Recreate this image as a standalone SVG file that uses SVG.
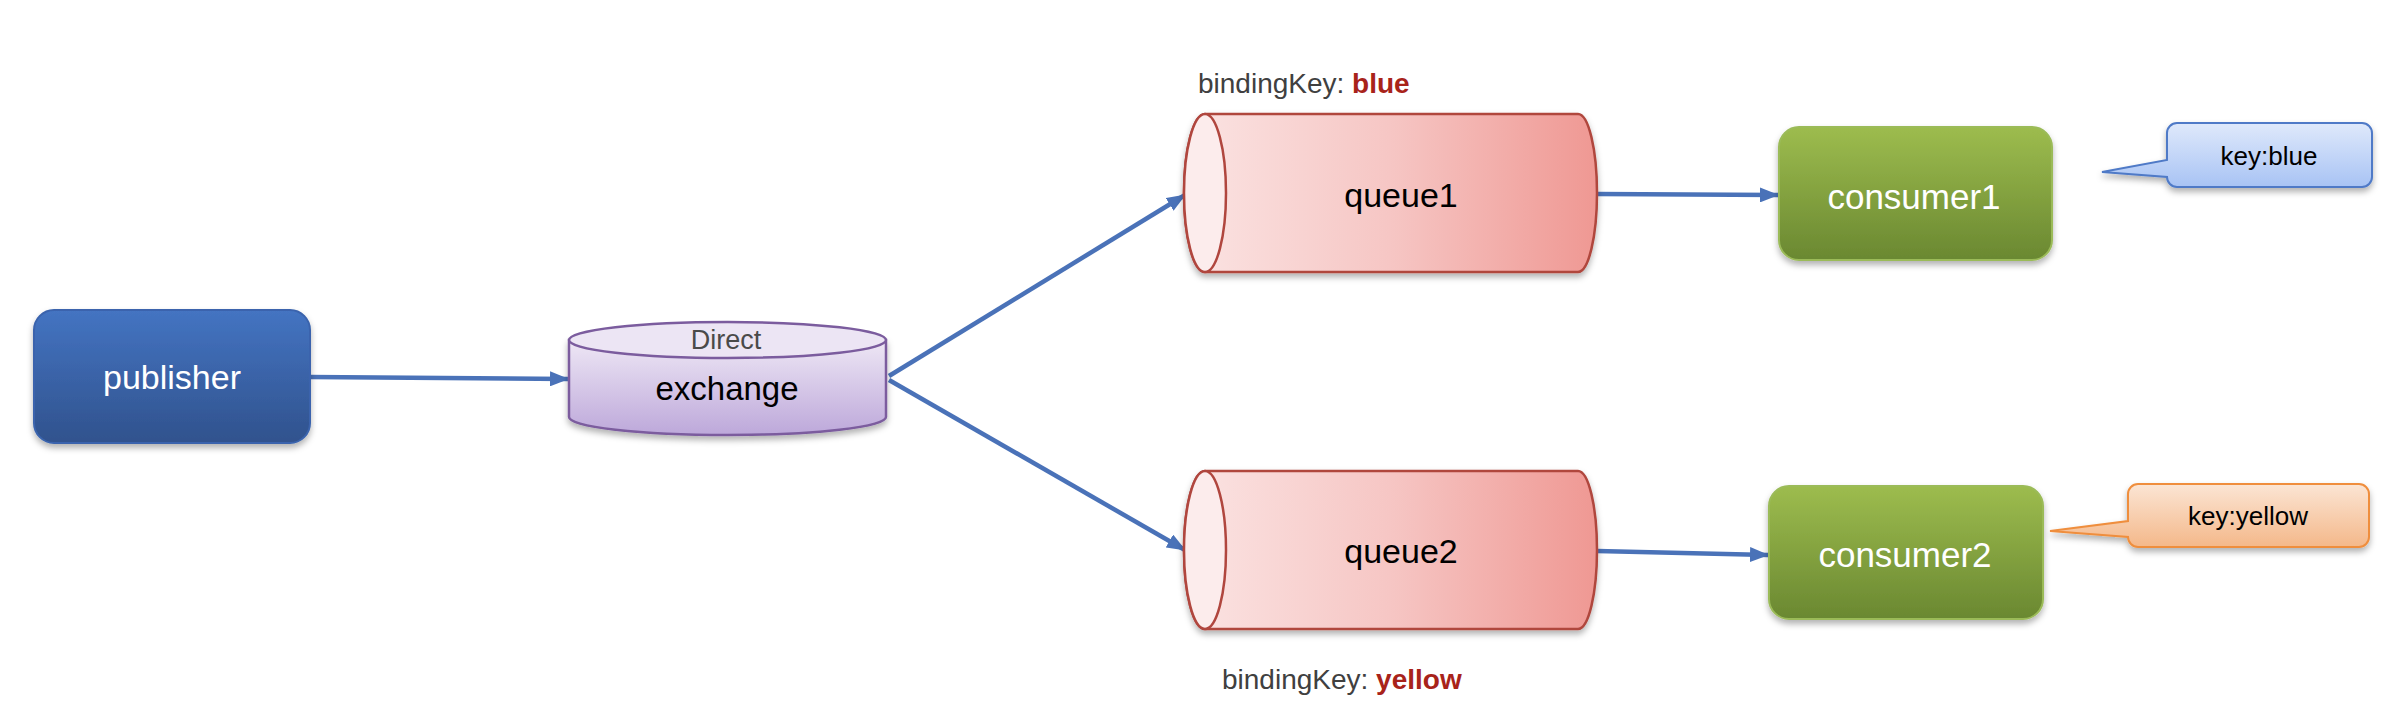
<svg xmlns="http://www.w3.org/2000/svg" width="2404" height="714" viewBox="0 0 2404 714">
<defs>
<linearGradient id="gPub" x1="0" y1="0" x2="0" y2="1"><stop offset="0" stop-color="#4474c2"/><stop offset="1" stop-color="#30528d"/></linearGradient>
<linearGradient id="gEx" x1="0" y1="0" x2="0" y2="1"><stop offset="0" stop-color="#eee7f5"/><stop offset="1" stop-color="#bda8da"/></linearGradient>
<linearGradient id="gQ" x1="0" y1="0" x2="1" y2="0"><stop offset="0" stop-color="#fbe4e3"/><stop offset="0.5" stop-color="#f6c6c4"/><stop offset="1" stop-color="#ef9893"/></linearGradient>
<linearGradient id="gCon" x1="0" y1="0" x2="0" y2="1"><stop offset="0" stop-color="#9dbc4e"/><stop offset="1" stop-color="#6a8831"/></linearGradient>
<linearGradient id="gBlue" x1="0" y1="0" x2="0" y2="1"><stop offset="0" stop-color="#dfe9fb"/><stop offset="1" stop-color="#a8c3f4"/></linearGradient>
<linearGradient id="gOr" x1="0" y1="0" x2="0" y2="1"><stop offset="0" stop-color="#fbe5d4"/><stop offset="1" stop-color="#f4b88a"/></linearGradient>
<filter id="sh" x="-10%" y="-10%" width="120%" height="130%"><feDropShadow dx="0" dy="4" stdDeviation="3" flood-color="#000" flood-opacity="0.3"/></filter>
<marker id="arr" markerUnits="userSpaceOnUse" markerWidth="19" markerHeight="15" refX="18" refY="7.5" orient="auto"><path d="M0,0 L19,7.5 L0,15 Z" fill="#4a72b8"/></marker>
<style>
.lbl{font-family:"Liberation Sans",Arial,sans-serif;text-anchor:middle}
.conn{stroke:#4a72b8;stroke-width:4.5;fill:none;marker-end:url(#arr)}
.con{fill:url(#gCon);stroke:#9bbb59;stroke-width:2;filter:url(#sh)}
.q{fill:url(#gQ);stroke:#b0463e;stroke-width:2.5}
.qe{fill:#fcecec;stroke:#b0463e;stroke-width:2.5}
.bk{font-family:"Liberation Sans",Arial,sans-serif;font-size:28px;fill:#404040}
.bkv{font-weight:bold;fill:#a8231a}
</style>
</defs>
<rect width="2404" height="714" fill="#ffffff"/>
<g id="connectors">
<line class="conn" x1="310" y1="377" x2="568" y2="379"/>
<line class="conn" x1="889" y1="376" x2="1185" y2="195"/>
<line class="conn" x1="889" y1="380" x2="1185" y2="550"/>
<line class="conn" x1="1597" y1="194" x2="1778" y2="195"/>
<line class="conn" x1="1597" y1="551" x2="1768" y2="555"/>
</g>
<g id="publisher">
<rect x="34" y="310" width="276" height="133" rx="20" fill="url(#gPub)" stroke="#3a64ad" stroke-width="2" filter="url(#sh)"/>
<text class="lbl" x="172" y="389" font-size="34" fill="#ffffff">publisher</text>
</g>
<g id="exchange">
<path d="M569,340 V417 A158.5,18 0 0 0 886,417 V340 Z" fill="url(#gEx)" stroke="#7b5c9e" stroke-width="2.5" filter="url(#sh)"/>
<ellipse cx="727.5" cy="340" rx="158.5" ry="18" fill="#ece5f4" stroke="#7b5c9e" stroke-width="2.5"/>
<text class="lbl" x="726" y="349" font-size="27" fill="#4a4a4a">Direct</text>
<text class="lbl" x="727" y="400" font-size="33" fill="#000000">exchange</text>
</g>
<g id="queue1">
<text class="bk" x="1198" y="93">bindingKey: <tspan class="bkv">blue</tspan></text>
<path class="q" d="M1205,114 H1578 A19,79 0 0 1 1578,272 H1205 A21,79 0 0 1 1205,114 Z" filter="url(#sh)"/>
<ellipse class="qe" cx="1205" cy="193" rx="21" ry="79"/>
<text class="lbl" x="1401" y="207" font-size="34" fill="#000000">queue1</text>
</g>
<g id="queue2">
<path class="q" d="M1205,471 H1578 A19,79 0 0 1 1578,629 H1205 A21,79 0 0 1 1205,471 Z" filter="url(#sh)"/>
<ellipse class="qe" cx="1205" cy="550" rx="21" ry="79"/>
<text class="lbl" x="1401" y="563" font-size="34" fill="#000000">queue2</text>
<text class="bk" x="1222" y="689">bindingKey: <tspan class="bkv">yellow</tspan></text>
</g>
<g id="consumer1">
<rect class="con" x="1779" y="127" width="273" height="133" rx="20"/>
<text class="lbl" x="1914" y="209" font-size="35" fill="#ffffff">consumer1</text>
</g>
<g id="consumer2">
<rect class="con" x="1769" y="486" width="274" height="133" rx="20"/>
<text class="lbl" x="1905" y="567" font-size="35" fill="#ffffff">consumer2</text>
</g>
<g id="callout-blue">
<path d="M2177,123 H2362 A10,10 0 0 1 2372,133 V177 A10,10 0 0 1 2362,187 H2177 A10,10 0 0 1 2167,177 L2102,172 L2167,160 V133 A10,10 0 0 1 2177,123 Z" fill="url(#gBlue)" stroke="#4f7ac7" stroke-width="2" filter="url(#sh)"/>
<text class="lbl" x="2269" y="165" font-size="26" fill="#000000">key:blue</text>
</g>
<g id="callout-yellow">
<path d="M2138,484 H2359 A10,10 0 0 1 2369,494 V537 A10,10 0 0 1 2359,547 H2138 A10,10 0 0 1 2128,537 L2050,531 L2128,521 V494 A10,10 0 0 1 2138,484 Z" fill="url(#gOr)" stroke="#ef8e3e" stroke-width="2" filter="url(#sh)"/>
<text class="lbl" x="2248" y="525" font-size="26" fill="#000000">key:yellow</text>
</g>
</svg>
